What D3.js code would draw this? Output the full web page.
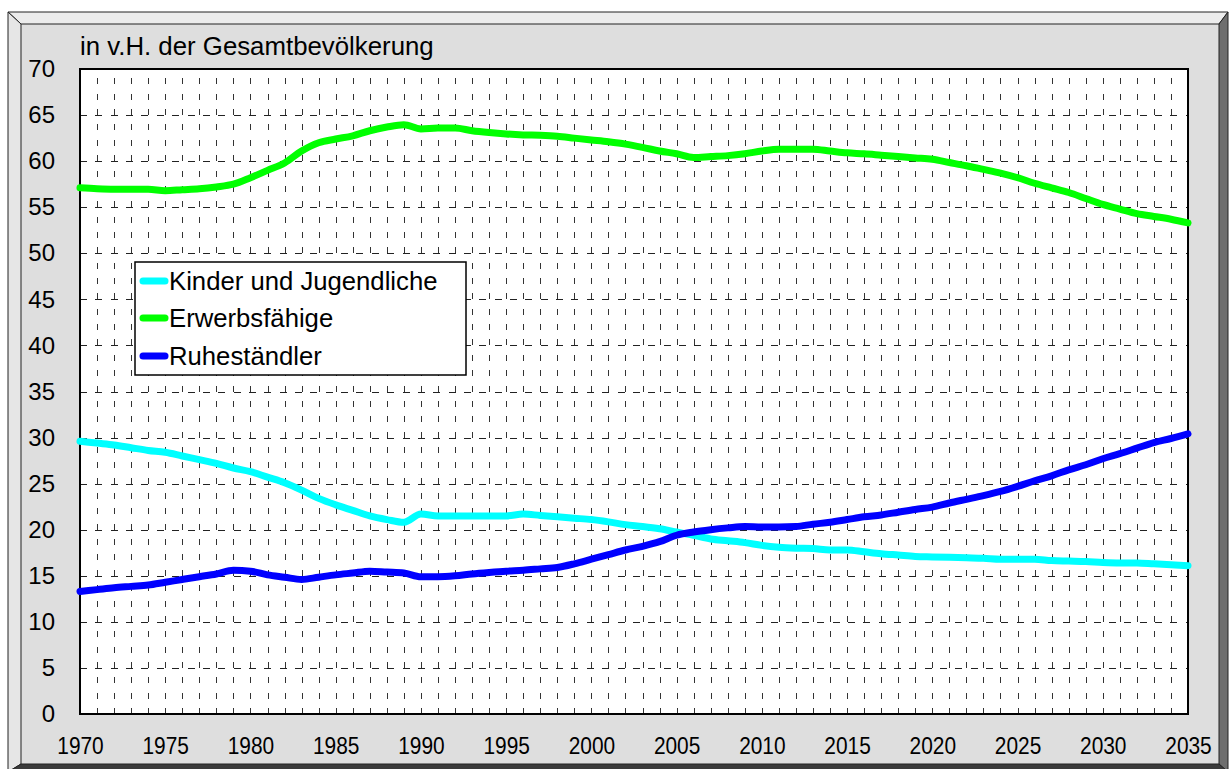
<!DOCTYPE html>
<html><head><meta charset="utf-8">
<script src="https://cdn.jsdelivr.net/npm/d3@7/dist/d3.min.js"></script>
<style>body{margin:0;background:#fff;} text{font-family:"Liberation Sans",Arial,sans-serif;}</style>
</head><body><svg id="c" width="1229" height="769"></svg>
<script>
const years = d3.range(1970, 2036);
const kinder = [29.6,29.4,29.2,28.9,28.6,28.4,28.0,27.6,27.2,26.7,26.3,25.7,25.1,24.3,23.4,22.7,22.1,21.5,21.1,20.8,21.7,21.5,21.5,21.5,21.5,21.5,21.7,21.55,21.4,21.25,21.1,20.85,20.55,20.35,20.1,19.75,19.4,19.0,18.8,18.6,18.3,18.1,18.0,17.95,17.8,17.8,17.6,17.4,17.25,17.1,17.05,17.0,16.95,16.9,16.8,16.8,16.8,16.65,16.6,16.55,16.45,16.4,16.4,16.3,16.2,16.1];
const erwerb = [57.1,57.0,56.95,56.95,56.95,56.8,56.9,57.0,57.2,57.5,58.2,59.0,59.8,61.1,62.0,62.4,62.75,63.3,63.7,63.95,63.5,63.6,63.6,63.3,63.1,62.95,62.85,62.8,62.7,62.5,62.3,62.1,61.85,61.5,61.1,60.8,60.4,60.5,60.6,60.8,61.1,61.3,61.3,61.3,61.1,60.9,60.8,60.65,60.5,60.35,60.2,59.85,59.5,59.1,58.7,58.2,57.6,57.1,56.6,55.95,55.3,54.8,54.3,54.0,53.7,53.3];
const ruhe = [13.3,13.5,13.7,13.85,14.0,14.3,14.6,14.9,15.2,15.6,15.5,15.1,14.85,14.6,14.85,15.1,15.3,15.5,15.4,15.3,14.9,14.9,15.0,15.2,15.36,15.5,15.6,15.75,15.9,16.3,16.8,17.3,17.8,18.2,18.7,19.4,19.75,20.0,20.2,20.35,20.3,20.3,20.35,20.6,20.8,21.1,21.4,21.6,21.9,22.2,22.45,22.9,23.3,23.7,24.15,24.7,25.3,25.85,26.5,27.05,27.7,28.25,28.85,29.45,29.9,30.4];
const seriesNames = ["Kinder und Jugendliche","Erwerbsfähige","Ruheständler"];
const seriesColors = ["#00ffff","#00ff00","#0000ff"];
const yTicks = d3.range(0, 71, 5);
const xTicks = d3.range(1970, 2036, 5);
const title = "in v.H. der Gesamtbevölkerung";

const svg = d3.select("#c");
// frame
const fx0 = 8, fy0 = 12, fx1 = 1228, fy1 = 769, bw = 13, bwr = 9, bwb = 5;
svg.append("rect").attr("x",fx0).attr("y",fy0).attr("width",fx1-fx0).attr("height",fy1-fy0).attr("fill","#dedede");
svg.append("path").attr("d",`M${fx0},${fy0}L${fx1},${fy0}L${fx1-bwr},${fy0+bw-1}L${fx0+bw},${fy0+bw-1}Z`).attr("fill","#ececec").attr("stroke","#222").attr("stroke-width",1);
svg.append("path").attr("d",`M${fx0},${fy0}L${fx0+bw},${fy0+bw-1}L${fx0+bw},${fy1-bwb}L${fx0},${fy1+3}Z`).attr("fill","#e6e6e6").attr("stroke","#222").attr("stroke-width",1);
svg.append("path").attr("d",`M${fx1},${fy0}L${fx1},${fy1+3}L${fx1-bwr},${fy1-bwb}L${fx1-bwr},${fy0+bw-1}Z`).attr("fill","#6e6e6e").attr("stroke","#222").attr("stroke-width",1);
svg.append("path").attr("d",`M${fx0+bw},${fy1-bwb}L${fx1-bwr},${fy1-bwb}L${fx1},${fy1+3}L${fx0},${fy1+3}Z`).attr("fill","#3a3a3a").attr("stroke","#222").attr("stroke-width",1);

const px0 = 80, px1 = 1188, py0 = 69, py1 = 714;
const x = d3.scaleLinear().domain([1970,2035]).range([px0,px1]);
const y = d3.scaleLinear().domain([0,70]).range([py1,py0]);

svg.append("rect").attr("x",px0).attr("y",py0).attr("width",px1-px0).attr("height",py1-py0).attr("fill","#fff");

const period = (y(0)-y(5))/3;
const g = svg.append("g").attr("shape-rendering","crispEdges");
g.selectAll("line.v").data(d3.range(1971,2035)).join("line").attr("class","v")
  .attr("x1",d=>Math.round(x(d))+0.5).attr("x2",d=>Math.round(x(d))+0.5)
  .attr("y1",py1).attr("y2",py0)
  .attr("stroke","#333").attr("stroke-width",1).attr("stroke-dasharray",`6 ${period-6}`);
g.selectAll("line.h").data(d3.range(5,70,5)).join("line").attr("class","h")
  .attr("y1",d=>Math.round(y(d))+0.5).attr("y2",d=>Math.round(y(d))+0.5)
  .attr("x1",px0).attr("x2",px1)
  .attr("stroke","#222").attr("stroke-width",1).attr("stroke-dasharray",`7 ${period-7}`);

svg.append("rect").attr("x",px0).attr("y",py0).attr("width",px1-px0).attr("height",py1-py0).attr("fill","none").attr("stroke","#000").attr("stroke-width",2);

// axes labels
const yAxis = d3.axisLeft(y).tickValues(yTicks).tickSize(0).tickPadding(25);
const ya = svg.append("g").attr("transform",`translate(${px0},0)`).call(yAxis);
ya.select(".domain").remove();
ya.selectAll("text").attr("font-size","24px").attr("fill","#000").attr("font-family","Liberation Sans, Arial, sans-serif");
const xAxis = d3.axisBottom(x).tickValues(xTicks).tickFormat(d3.format("d")).tickSize(0).tickPadding(23);
const xa = svg.append("g").attr("transform",`translate(0,${py1})`).call(xAxis);
xa.select(".domain").remove();
xa.selectAll("text").attr("font-size","24px").attr("fill","#000").attr("font-family","Liberation Sans, Arial, sans-serif")
  .attr("transform","scale(0.87,1)");

svg.append("text").attr("x",px0).attr("y",55).attr("font-size","25.8px").text(title);

// lines
const all = [kinder, erwerb, ruhe];
const line = d3.line().x((d,i)=>x(years[i])).y(d=>y(d)).curve(d3.curveMonotoneX);
all.forEach((s,k)=>{
  svg.append("path").datum(s).attr("d",line).attr("fill","none").attr("stroke",seriesColors[k])
    .attr("stroke-width",7).attr("stroke-linejoin","round").attr("stroke-linecap","round");
});

// legend
const lg = svg.append("g");
lg.append("rect").attr("x",135).attr("y",262).attr("width",331).attr("height",113).attr("fill","#fff").attr("stroke","#000").attr("stroke-width",1.5);
const rowY = [281, 318, 356];
seriesNames.forEach((n,k)=>{
  lg.append("line").attr("x1",143).attr("x2",165).attr("y1",rowY[k]).attr("y2",rowY[k]).attr("stroke",seriesColors[k]).attr("stroke-width",7).attr("stroke-linecap","round");
  lg.append("text").attr("x",169).attr("y",rowY[k]).attr("dy","0.36em").attr("font-size","25.7px").text(n);
});
</script></body></html>
